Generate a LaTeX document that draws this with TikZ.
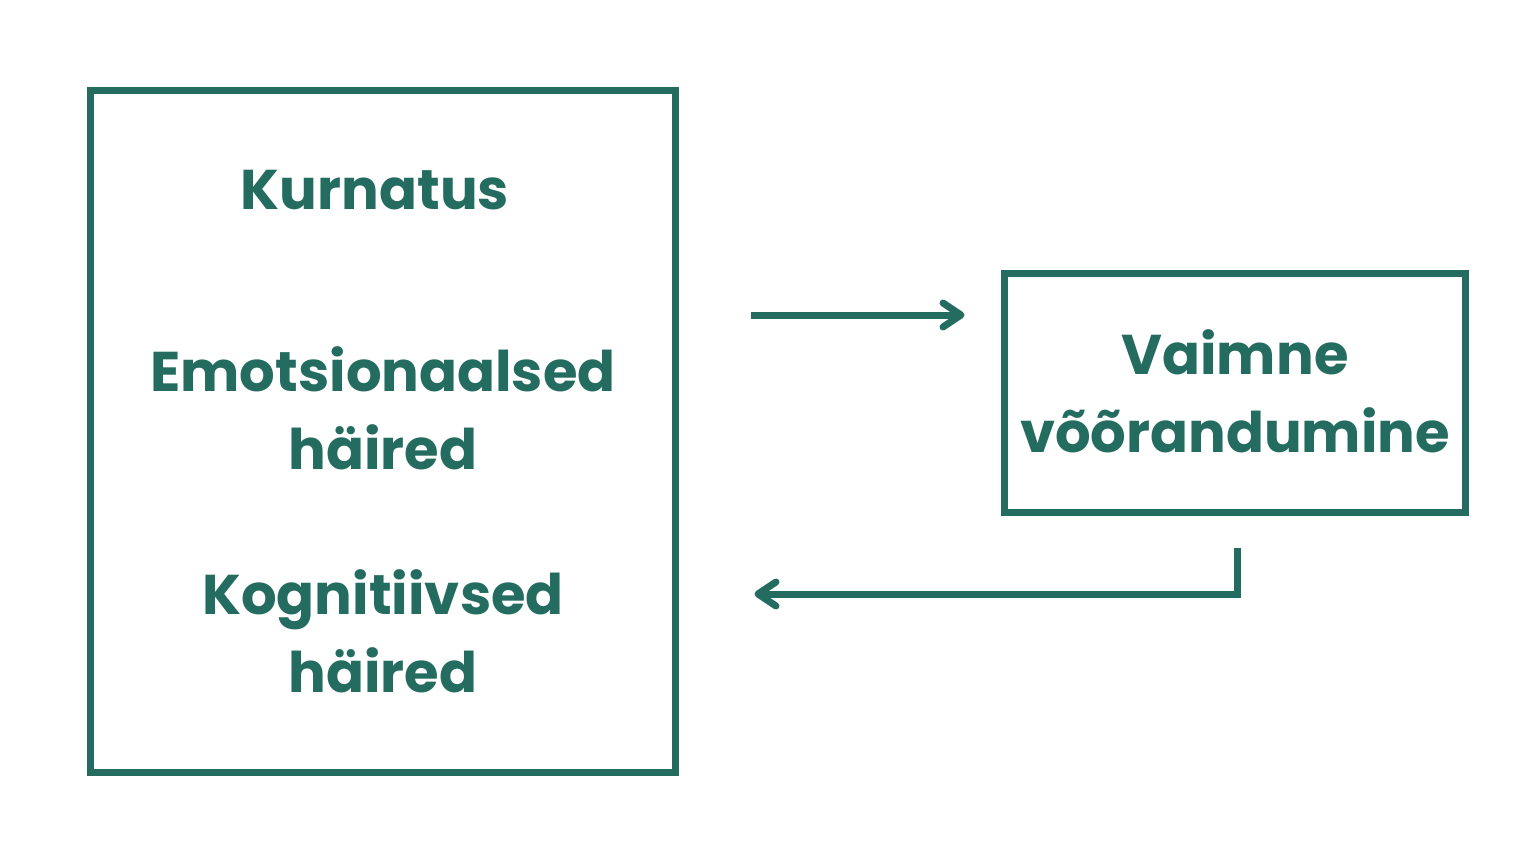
\documentclass[tikz,border=0pt]{standalone}
\usepackage{fontspec}
\setmainfont{Poppins}[UprightFont=* Bold]
\definecolor{teal1}{RGB}{36,108,96}
\begin{document}
\begin{tikzpicture}[x=0.5pt,y=-0.5pt,
  box/.style={draw=teal1,line width=3.5pt},
  lbl/.style={text=teal1,font=\fontsize{28}{39}\selectfont,align=center,inner sep=0pt},
  conn/.style={draw=teal1,line width=3.5pt,shorten >=1pt},
  chev/.style={draw=teal1,line width=3.5pt,line cap=round,line join=round}]
\useasboundingbox (0,0) rectangle (1536,864);
\draw[box] (90.5,90.5) rectangle (675.5,772.5);
\draw[box] (1004.5,273.5) rectangle (1465.5,512.5);
\node[lbl] (kurn) at (375,190) {Kurnatus};
\node[lbl] (emo) at (383,408) {Emotsionaalsed\\häired};
\node[lbl] (kog) at (383,631) {Kognitiivsed\\häired};
\node[lbl] (vai) at (1235,391) {Vaimne\\võõrandumine};
\coordinate (a1s) at (751,315);
\coordinate (a1e) at (961,315);
\coordinate (a2s) at (1237,548);
\coordinate (a2e) at (758,594);
\draw[conn] (a1s) -- (a1e);
\draw[chev] ([shift={(-18,-12)}]a1e) -- (a1e) -- ([shift={(-18,12)}]a1e);
\draw[conn] (a2s) |- (a2e);
\draw[chev] ([shift={(18,-12)}]a2e) -- (a2e) -- ([shift={(18,12)}]a2e);
\end{tikzpicture}
\end{document}
